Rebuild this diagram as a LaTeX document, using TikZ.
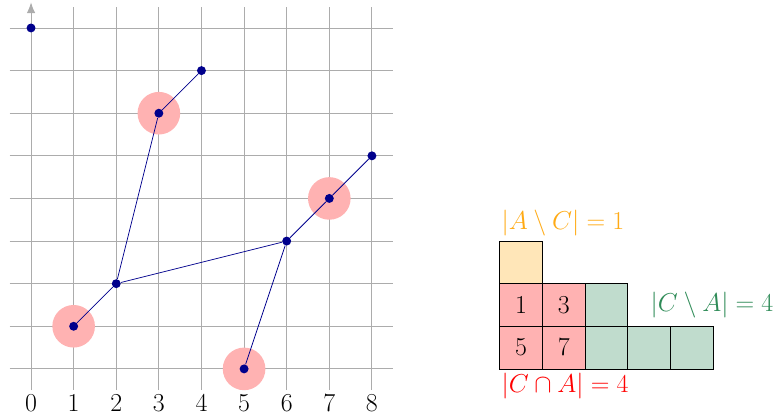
\documentclass[tikz,border=0pt]{standalone}
\usetikzlibrary{arrows.meta}
\definecolor{setorange}{RGB}{255,170,20}
\definecolor{setgreen}{RGB}{46,139,87}
\tikzset{
	dot/.style={circle, fill=blue!55!black, inner sep=0pt, minimum size=0.21cm},
	hit/.style={fill=red!30},
	cell/.style={draw, minimum size=1cm, inner sep=0pt, font=\LARGE},
}
\begin{document}
\begin{tikzpicture}
\useasboundingbox (-0.728,-1.174) rectangle (17.6,8.657);
\draw[gray!65, line width=0.6pt] (-0.5,-0.5) grid (8.5,8.5);
\draw[gray!65, line width=0.6pt, -{Latex[length=2.5mm, width=2mm]}] (0,-0.5) -- (0,8.6);
\foreach \x in {0,...,8}
	\node[font=\LARGE, anchor=north] (n\x) at (\x,-0.48) {$\x$};
\foreach \x / \y in {3/6, 7/4, 1/1, 5/0}
	\fill[hit] (\x,\y) circle (0.5);
\foreach \x / \y in {0/8, 1/1, 2/2, 3/6, 4/7, 5/0, 6/3, 7/4, 8/5}
	\node[dot] (v\x) at (\x,\y) {};
\draw[blue!55!black, line width=0.5pt] (v4) -- (v3) -- (v2) -- (v1);
\draw[blue!55!black, line width=0.5pt] (v2) -- (v6) -- (v7) -- (v8);
\draw[blue!55!black, line width=0.5pt] (v6) -- (v5);
\node[cell, fill=setorange!30] (c13) at (11.5,2.5) {};
\node[cell, fill=red!30] (c12) at (11.5,1.5) {$1$};
\node[cell, fill=red!30] (c22) at (12.5,1.5) {$3$};
\node[cell, fill=red!30] (c11) at (11.5,0.5) {$5$};
\node[cell, fill=red!30] (c21) at (12.5,0.5) {$7$};
\node[cell, fill=setgreen!30] (c32) at (13.5,1.5) {};
\foreach \x in {3,4,5}
	\node[cell, fill=setgreen!30] (c\x1) at ({\x+10.5},0.5) {};
\node[font=\LARGE, text=setorange, anchor=south west, inner sep=1pt] (ac) at (11,3.07) {$|A\setminus C|=1$};
\node[font=\LARGE, text=setgreen, anchor=west, inner sep=1pt] (ca) at (14.5,1.5) {$|C\setminus A|=4$};
\node[font=\LARGE, text=red, anchor=north west, inner sep=1pt] (cna) at (11,-0.06) {$|C\cap A|=4$};
\end{tikzpicture}
\end{document}
